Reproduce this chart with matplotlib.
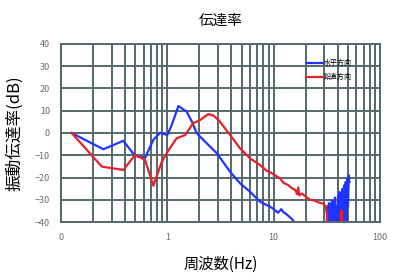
import numpy as np
from matplotlib import pyplot as plt
from matplotlib.ticker import FixedLocator, LogLocator, NullFormatter

plt.rcParams['font.family'] = ['Noto Sans CJK JP', 'DejaVu Sans']

# 水平方向 (blue)
h_freq = [0.126, 0.25, 0.385, 0.497, 0.617, 0.738, 0.853, 1.0, 1.1, 1.27,
          1.52, 1.70, 1.89, 2.18, 2.92, 3.89, 4.83, 6.0, 7.45, 9.25,
          10.2, 11.0, 11.8, 12.4, 13.2, 14.5, 15.7, 16.5,
          31.5, 32.0, 32.6, 33.1, 33.6, 34.2, 34.8, 35.3, 35.9, 36.5,
          37.1, 37.7, 38.3, 39.0, 39.6, 40.3, 41.0, 41.7, 42.4, 43.1,
          43.8, 44.5, 45.3, 46.0, 46.8, 47.6, 48.4, 49.2, 50.0, 50.8, 51.5]
h_db = [0.0, -7.3, -3.5, -10.3, -11.1, -3.1, 0.1, -0.9, 3.6, 12.1,
        9.6, 5.1, -0.1, -3.1, -9.1, -17.4, -22.6, -26.4, -30.9, -33.1,
        -34.5, -35.8, -34.2, -35.6, -36.5, -38.2, -40.0, -41.0,
        -42.0, -33.0, -41.0, -31.5, -40.5, -32.0, -41.0, -30.5, -40.0, -31.0,
        -41.0, -29.0, -39.0, -33.0, -41.0, -28.0, -40.0, -26.5, -41.0, -29.0,
        -38.0, -25.0, -41.0, -23.5, -36.0, -22.0, -40.0, -20.5, -33.0, -19.0, -22.0]

# 鉛直方向 (red)
v_freq = [0.126, 0.242, 0.385, 0.497, 0.617, 0.738, 0.886, 1.03, 1.22, 1.47,
          1.75, 2.03, 2.43, 2.73, 3.12, 3.89, 4.83, 6.0, 7.45, 8.6,
          9.25, 11.5, 12.3, 13.7, 15.0, 16.0, 16.6, 17.0, 17.4, 18.5,
          20.0, 21.9, 24.0, 26.5, 29.3, 31.0, 31.7, 32.2,
          42.8, 43.4, 44.0]
v_db = [0.0, -15.1, -16.6, -9.9, -12.1, -23.7, -12.9, -7.6, -2.4, -0.9,
        4.4, 5.8, 8.5, 7.8, 5.1, -0.9, -6.9, -11.4, -14.4, -17.0,
        -17.6, -20.4, -22.3, -23.4, -25.0, -25.6, -27.5, -24.5, -28.0, -27.2,
        -28.6, -30.0, -30.3, -31.2, -31.8, -33.0, -37.0, -43.0,
        -43.0, -34.8, -43.0]

fig = plt.figure(figsize=(4, 2.8), dpi=100)
ax = fig.add_axes([0.1525, 0.207, 0.7975, 0.636])

ax.plot(h_freq, h_db, color='#1f35ff', linewidth=1.6, label='水平方向')
ax.plot(v_freq, v_db, color='#e8202a', linewidth=1.6, label='鉛直方向')

ax.set_xscale('log')
ax.set_xlim(0.1, 100)
ax.set_ylim(-40, 40)
ax.set_yticks(np.arange(-40, 41, 10))
ax.xaxis.set_major_locator(FixedLocator([0.1, 1, 10, 100]))
ax.set_xticklabels(['0', '1', '10', '100'])
ax.xaxis.set_minor_locator(LogLocator(base=10, subs=np.arange(2, 10)))
ax.xaxis.set_minor_formatter(NullFormatter())

gc = '#55686a'
ax.grid(True, which='both', color=gc, linewidth=1.4)
ax.set_axisbelow(True)
for s in ax.spines.values():
    s.set_color(gc)
    s.set_linewidth(1.4)
ax.tick_params(which='both', length=0, labelsize=6.5, colors='#6a6a6a', pad=8)

ax.set_title('伝達率', fontsize=10.5, pad=14)
ax.set_ylabel('振動伝達率(dB)', fontsize=12, labelpad=8)
ax.set_xlabel('周波数(Hz)', fontsize=11, labelpad=10)

leg = ax.legend(loc='upper right', bbox_to_anchor=(0.93, 0.95), frameon=False,
                fontsize=5, handlelength=2.2, handletextpad=0.1, labelspacing=0.9)

fig.savefig('out.png', dpi=100)
